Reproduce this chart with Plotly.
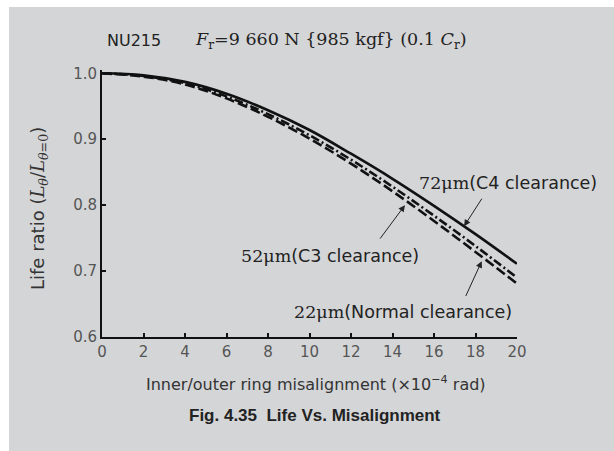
import plotly.graph_objects as go

# ---- data ----
misalignment = [0, 2, 4, 6, 8, 10, 12, 14, 16, 18, 20]
life_c4 = [1.000, 0.997, 0.987, 0.969, 0.944, 0.914, 0.878, 0.840, 0.799, 0.756, 0.711]
life_c3 = [1.000, 0.996, 0.985, 0.965, 0.938, 0.906, 0.869, 0.828, 0.784, 0.738, 0.690]
life_normal = [1.000, 0.995, 0.983, 0.962, 0.934, 0.901, 0.863, 0.821, 0.776, 0.729, 0.681]
x_ticks = [0, 2, 4, 6, 8, 10, 12, 14, 16, 18, 20]
y_ticks = [0.6, 0.7, 0.8, 0.9, 1.0]
y_tick_labels = ["0.6", "0.7", "0.8", "0.9", "1.0"]

# ---- layout geometry (screenshot pixels; page margin removed below) ----
W, H = 614, 451
L, R, T, B = 102, 517, 70, 337
Y0, Y1 = 0.6, 1.005
X0, X1 = 0, 20

def px(xp):
    return (xp - L) / (R - L)

def py(yp):
    return (B - yp) / (B - T)

GREY = "#d4d5d7"
INK = "#111111"
SERIF = "DejaVu Serif, Liberation Serif, serif"
SANS = "DejaVu Sans, Liberation Sans, sans-serif"

fig = go.Figure()
line_w = 2.6
fig.add_trace(go.Scatter(x=misalignment, y=life_c4, mode="lines", line_shape="spline",
                         line=dict(color=INK, width=line_w, dash="solid"), name="72µm"))
fig.add_trace(go.Scatter(x=misalignment, y=life_c3, mode="lines", line_shape="spline",
                         line=dict(color=INK, width=line_w, dash="9px,3px,2px,3px"), name="52µm"))
fig.add_trace(go.Scatter(x=misalignment, y=life_normal, mode="lines", line_shape="spline",
                         line=dict(color=INK, width=line_w, dash="10px,4px"), name="22µm"))

annotations = []

def txt(text, xp, yp, size=14, family=SANS, color="#222", xanchor="center", yanchor="middle", angle=0):
    annotations.append(dict(text=text, x=px(xp), y=py(yp), xref="paper", yref="paper",
                            showarrow=False, xanchor=xanchor, yanchor=yanchor, textangle=angle,
                            font=dict(size=size, family=family, color=color)))

SER_SPAN = "<span style=\"font-family:'DejaVu Serif'\">"

# header
txt("NU215", 105, 41, size=16, xanchor="left")
txt("<i>F</i><sub>r</sub>=9 660 N {985 kgf} (0.1 <i>C</i><sub>r</sub>)", 193, 41, size=17.5,
    family=SERIF, xanchor="left")

# axis titles
txt("Life ratio (" + SER_SPAN + "<i>L</i><sub><i>θ</i></sub>/<i>L</i><sub><i>θ</i>=0</sub></span>)",
    39, 209, size=18, color="#333", angle=-90)
txt("Inner/outer ring misalignment (×10<sup>−4</sup> rad)", 316, 383, size=16, color="#333")

# caption
txt("<b>Fig. 4.35  Life Vs. Misalignment</b>", 315, 415, size=17,
    family="Liberation Sans, Arial, sans-serif", color="#222")

# curve labels
txt(SER_SPAN + "72μm</span>(C4 clearance)", 508, 183, size=17.5, color="#222")
txt(SER_SPAN + "52μm</span>(C3 clearance)", 330, 256, size=17.5, color="#222")
txt(SER_SPAN + "22μm</span>(Normal clearance)", 403, 312, size=17.5, color="#222")

# leader arrows (data coordinates: tip <- tail)
def arrow(tip_x, tip_y, tail_x, tail_y, head=2):
    annotations.append(dict(text="", x=tip_x, y=tip_y, ax=tail_x, ay=tail_y,
                            xref="x", yref="y", axref="x", ayref="y", showarrow=True,
                            arrowhead=head, arrowsize=1.3, arrowwidth=1, arrowcolor="#222",
                            standoff=0, startstandoff=0))

arrow(17.45, 0.768, 18.35, 0.812)
arrow(14.6, 0.800, 13.35, 0.747)
arrow(18.3, 0.715, 17.5, 0.660)

# white page border on the top and left, as in the reference scan
shapes = [
    dict(type="rect", xref="paper", yref="paper", x0=px(0), x1=px(W), y0=py(7), y1=py(0),
         fillcolor="white", line=dict(width=0), layer="below"),
    dict(type="rect", xref="paper", yref="paper", x0=px(0), x1=px(9), y0=py(H), y1=py(0),
         fillcolor="white", line=dict(width=0), layer="below"),
]

fig.update_layout(
    width=W, height=H,
    margin=dict(l=L, r=W - R, t=T, b=H - B, pad=0),
    paper_bgcolor=GREY, plot_bgcolor="rgba(0,0,0,0)",
    showlegend=False,
    annotations=annotations,
    shapes=shapes,
    xaxis=dict(range=[X0, X1], tickvals=x_ticks, ticks="inside", ticklen=4, tickwidth=1.5,
               tickcolor=INK, showline=True, linewidth=2, linecolor=INK, showgrid=False,
               zeroline=False, tickfont=dict(size=15, family=SANS, color="#555"), fixedrange=True),
    yaxis=dict(range=[Y0, Y1], tickvals=y_ticks, ticktext=y_tick_labels, ticks="inside", ticklen=4,
               tickwidth=1.5, tickcolor=INK, showline=True, linewidth=2, linecolor=INK,
               showgrid=False, zeroline=False, tickfont=dict(size=15, family=SANS, color="#555"),
               fixedrange=True),
)

fig.write_html(
    "out.html",
    config={"displayModeBar": False},
    post_script="document.body.style.margin='0';document.body.style.overflow='hidden';",
)
